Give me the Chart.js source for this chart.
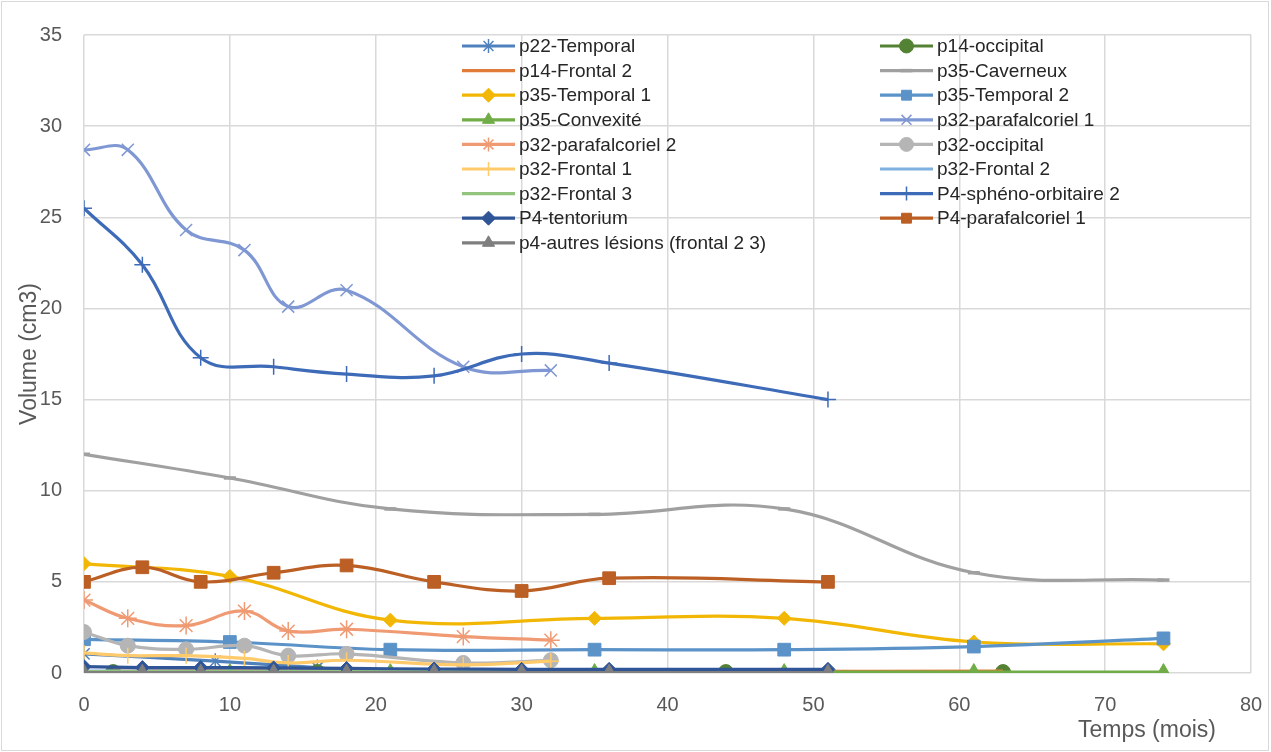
<!DOCTYPE html>
<html>
<head>
<meta charset="utf-8">
<script src="https://cdn.jsdelivr.net/npm/chart.js@4/dist/chart.umd.min.js"></script>
<style>
  html, body { margin: 0; padding: 0; background: #fff; }
  #wrap { width: 1271px; height: 752px; }
</style>
</head>
<body>
<div id="wrap"><canvas id="chart" width="1271" height="752"></canvas></div>
<script>
// Mois de suivi par patient
const moisP22 = [0, 9, 16];
const moisP14 = [2, 16, 44, 63];
const moisP35 = [0, 10, 21, 35, 48, 61, 74];
const moisP32 = [0, 3, 7, 11, 14, 18, 26, 32];
const moisP4 = [0, 4, 8, 13, 18, 24, 30, 36, 51];

// Volumes (cm3)
const p22Temporal = [1.05, 0.65, 0.3];
const p14Occipital = [0.05, 0.05, 0.05, 0.05];
const p14Frontal2 = [0.3, 0.2, 0.1, 0.1];
const p35Caverneux = [12.0, 10.7, 9.0, 8.7, 9.0, 5.5, 5.1];
const p35Temporal1 = [6.0, 5.3, 2.9, 3.0, 3.0, 1.7, 1.6];
const p35Temporal2 = [1.85, 1.7, 1.28, 1.28, 1.28, 1.45, 1.9];
const p35Convexite = [0.05, 0.05, 0.05, 0.05, 0.05, 0.05, 0.05];
const p32Parafalc1 = [28.7, 28.7, 24.3, 23.2, 20.1, 21.0, 16.8, 16.6];
const p32Parafalc2 = [4.0, 3.0, 2.6, 3.4, 2.3, 2.4, 2.0, 1.8];
const p32Occipital = [2.25, 1.5, 1.3, 1.5, 0.95, 1.05, 0.55, 0.7];
const p32Frontal1 = [1.1, 0.95, 0.95, 0.8, 0.55, 0.7, 0.45, 0.65];
const p32Frontal2 = [0.1, 0.1, 0.1, 0.1, 0.1, 0.1, 0.1, 0.1];
const p32Frontal3 = [0.08, 0.08, 0.08, 0.08, 0.08, 0.08, 0.08, 0.08];
const p4Spheno2 = [25.5, 22.4, 17.3, 16.8, 16.4, 16.3, 17.5, 17.0, 15.0];
const p4Tentorium = [0.35, 0.3, 0.3, 0.28, 0.25, 0.22, 0.2, 0.2, 0.2];
const p4Parafalc1 = [5.0, 5.8, 5.0, 5.5, 5.9, 5.0, 4.5, 5.2, 5.0];
const p4Autres = [0.02, 0.02, 0.02, 0.02, 0.02, 0.02, 0.02, 0.02, 0.02];

// Graduations
const xTicks = [0, 10, 20, 30, 40, 50, 60, 70, 80];
const yTicks = [0, 5, 10, 15, 20, 25, 30, 35];

const pts = (xs, ys) => xs.map((x, i) => ({ x: x, y: ys[i] }));

function serie(label, mois, vals, color, style, radius, pbw) {
    return {
        label: label,
        data: pts(mois, vals),
        borderColor: color,
        backgroundColor: color,
        borderWidth: 3.2,
        pointStyle: style || false,
        pointRadius: style ? radius : 0,
        pointBorderWidth: pbw || 1,
        pointBackgroundColor: color,
        pointBorderColor: color,
        tension: 0.4
    };
}

const datasets = [
    serie("p22-Temporal", moisP22, p22Temporal, "#4f81bd", "star", 8, 1.5),
    serie("p14-occipital", moisP14, p14Occipital, "#548235", "circle", 7.5),
    serie("p14-Frontal 2", moisP14, p14Frontal2, "#e07b39", null),
    serie("p35-Caverneux", moisP35, p35Caverneux, "#a0a0a0", "line", 6, 3.5),
    serie("p35-Temporal 1", moisP35, p35Temporal1, "#f2b705", "rectRot", 7),
    serie("p35-Temporal 2", moisP35, p35Temporal2, "#5b93c9", "rect", 9),
    serie("p35-Convexité", moisP35, p35Convexite, "#70ad47", "triangle", 8.5),
    serie("p32-parafalcoriel 1", moisP32, p32Parafalc1, "#7f97d3", "crossRot", 8.5, 1.5),
    serie("p32-parafalcoriel 2", moisP32, p32Parafalc2, "#f09a73", "star", 9, 1.5),
    serie("p32-occipital", moisP32, p32Occipital, "#b5b5b5", "circle", 7.5),
    serie("p32-Frontal 1", moisP32, p32Frontal1, "#ffca6b", "cross", 8, 1.5),
    serie("p32-Frontal 2", moisP32, p32Frontal2, "#7fb0de", null),
    serie("p32-Frontal 3", moisP32, p32Frontal3, "#93c47d", null),
    serie("P4-sphéno-orbitaire 2", moisP4, p4Spheno2, "#3e6bb8", "cross", 8, 1.5),
    serie("P4-tentorium", moisP4, p4Tentorium, "#2f5597", "rectRot", 7),
    serie("P4-parafalcoriel 1", moisP4, p4Parafalc1, "#bc5f24", "rect", 9),
    serie("p4-autres lésions (frontal 2 3)", moisP4, p4Autres, "#7f7f7f", "triangle", 8.5)
];
// ordre Excel : la dernière série est dessinée au-dessus
datasets.forEach((d, i) => { d.order = -i; });

const FONT = "'Liberation Sans', Arial, sans-serif";
const TEXT = "#595959";

// Légende en deux colonnes dans la zone de tracé + titres des axes + cadre
const decor = {
    id: "decor",
    beforeDraw(chart) {
        const ctx = chart.ctx;
        ctx.save();
        ctx.strokeStyle = "#d9d9d9";
        ctx.lineWidth = 1;
        ctx.strokeRect(1.5, 1.5, chart.width - 4, chart.height - 3);
        ctx.restore();
    },
    afterDraw(chart) {
        const ctx = chart.ctx;
        const area = chart.chartArea;
        ctx.save();
        // légende
        const colX = [area.left + 378, area.left + 796];
        const rowY0 = area.top + 11;
        const rowH = 24.6;
        ctx.font = "19px " + FONT;
        ctx.textBaseline = "middle";
        chart.data.datasets.forEach((ds, i) => {
            const x = colX[i % 2];
            const y = rowY0 + Math.floor(i / 2) * rowH;
            ctx.strokeStyle = ds.borderColor;
            ctx.lineWidth = 3.2;
            ctx.beginPath();
            ctx.moveTo(x, y);
            ctx.lineTo(x + 53, y);
            ctx.stroke();
            if (ds.pointStyle) {
                ctx.fillStyle = ds.pointBackgroundColor;
                ctx.strokeStyle = ds.pointBorderColor;
                ctx.lineWidth = ds.pointBorderWidth;
                Chart.helpers.drawPoint(ctx, {
                    pointStyle: ds.pointStyle,
                    radius: Math.min(ds.pointRadius, 7),
                    rotation: 0,
                    borderWidth: ds.pointBorderWidth
                }, x + 26.5, y);
            }
            ctx.fillStyle = "#262626";
            ctx.textAlign = "left";
            ctx.fillText(ds.label, x + 57, y + 1);
        });
        // titres des axes
        ctx.fillStyle = TEXT;
        ctx.font = "23px " + FONT;
        ctx.textAlign = "right";
        ctx.textBaseline = "middle";
        ctx.fillText("Temps (mois)", area.right - 35, 731);
        ctx.translate(30, (area.top + area.bottom) / 2);
        ctx.rotate(-Math.PI / 2);
        ctx.textAlign = "center";
        ctx.fillText("Volume (cm3)", 0, 0);
        ctx.restore();
    }
};

const grid = { color: "#d9d9d9", lineWidth: 1.5, drawTicks: false };

new Chart(document.getElementById("chart").getContext("2d"), {
    type: "line",
    data: { datasets: datasets },
    plugins: [decor],
    options: {
        responsive: false,
        animation: false,
        layout: { padding: { top: 35, right: 20, left: 0, bottom: 0 } },
        plugins: { legend: { display: false }, tooltip: { enabled: false } },
        scales: {
            x: {
                type: "linear",
                min: 0,
                max: 80,
                afterBuildTicks: s => { s.ticks = xTicks.map(v => ({ value: v })); },
                afterFit: s => { s.height = 79; s.paddingLeft = 0; s.paddingRight = 0; },
                grid: grid,
                border: { display: false },
                ticks: { color: TEXT, padding: 20, font: { size: 20, family: FONT } }
            },
            y: {
                min: 0,
                max: 35,
                afterBuildTicks: s => { s.ticks = yTicks.map(v => ({ value: v })); },
                afterFit: s => { s.width = 84; s.paddingTop = 0; s.paddingBottom = 0; },
                grid: grid,
                border: { display: false },
                ticks: { color: TEXT, padding: 22, font: { size: 20, family: FONT } }
            }
        }
    }
});
</script>
</body>
</html>
